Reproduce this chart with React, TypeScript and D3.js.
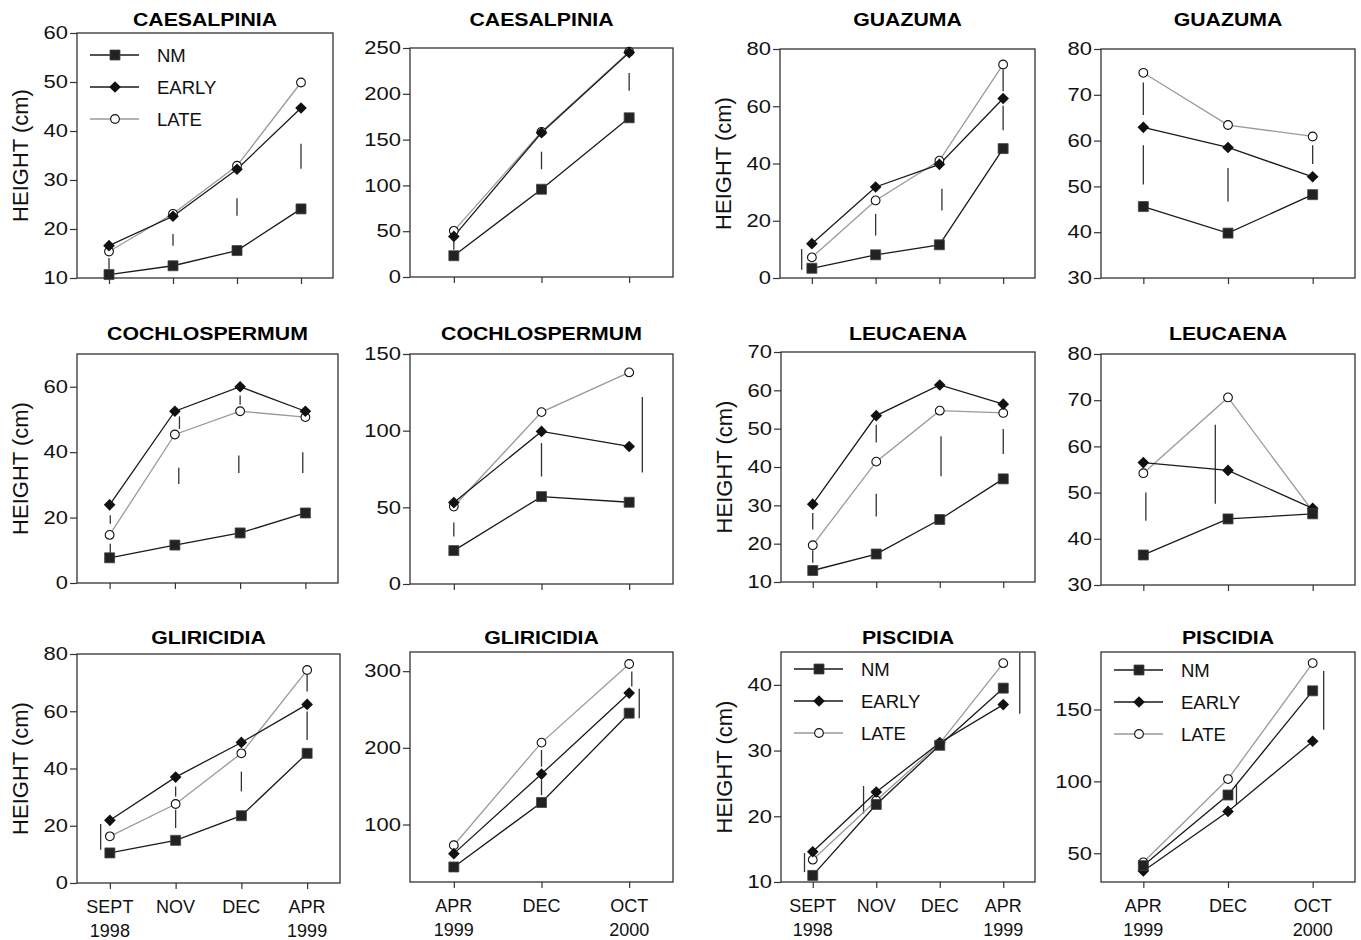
import { useEffect, useRef } from 'react';
import * as d3 from 'd3';

// x categories
const monthsA = ['SEPT', 'NOV', 'DEC', 'APR'];
const yearsA = ['1998', '', '', '1999'];
const monthsB = ['APR', 'DEC', 'OCT'];
const yearsB = ['1999', '', '2000'];
const seriesNames = ['NM', 'EARLY', 'LATE'];

// CAESALPINIA
const caesNmA = [10.7, 12.5, 15.6, 24.1];
const caesEarlyA = [16.6, 22.6, 32.2, 44.7];
const caesLateA = [15.4, 23.1, 32.9, 49.9];
const caesLsdA = [[0, 11.8, 14.1], [1, 16.6, 19.0], [2, 22.7, 26.3], [3, 32.3, 37.4]];
const caesNmB = [23.2, 95.8, 173.8];
const caesEarlyB = [44.3, 157.5, 245];
const caesLateB = [50.4, 158.5, 246];
const caesLsdB = [[0, 29.8, 40.6], [1, 117.6, 136.8], [2, 203.2, 222.8]];

// GUAZUMA
const guazNmA = [3.4, 8.1, 11.6, 45.2];
const guazEarlyA = [12.0, 31.8, 39.7, 62.7];
const guazLateA = [7.2, 27.1, 41.0, 74.6];
const guazLsdA = [[-0.16, 2.9, 10.1], [1, 14.8, 22.4], [2.04, 23.6, 31.2], [3, 65.2, 72.8], [3, 51.6, 60.2]];
const guazNmB = [45.6, 39.8, 48.2];
const guazEarlyB = [62.9, 58.5, 52.1];
const guazLateB = [74.8, 63.4, 60.9];
const guazLsdB = [[0, 65.6, 72.7], [0, 50.4, 59.0], [1, 46.7, 54.0], [2, 54.9, 59.0]];

// COCHLOSPERMUM
const cochNmA = [7.7, 11.6, 15.3, 21.4];
const cochEarlyA = [23.9, 52.5, 60.0, 52.5];
const cochLateA = [14.7, 45.4, 52.5, 50.7];
const cochLsdA = [[0.01, 18.1, 20.7], [0.01, 9.0, 12.0], [1.07, 47.1, 50.9], [1.06, 30.3, 35.2], [2, 54.5, 57.3], [1.98, 33.6, 39.0], [2.96, 33.6, 40.0]];
const cochNmB = [21.8, 57.0, 53.3];
const cochEarlyB = [53.1, 99.5, 89.7];
const cochLateB = [50.5, 112.1, 138.0];
const cochLsdB = [[0, 30.9, 40.1], [1, 70.1, 91.9], [2.15, 72.7, 121.9]];

// LEUCAENA
const leucNmA = [13.0, 17.3, 26.3, 36.9];
const leucEarlyA = [30.3, 53.4, 61.4, 56.4];
const leucLateA = [19.6, 41.4, 54.7, 54.1];
const leucLsdA = [[0, 23.7, 28.0], [0, 15.0, 18.3], [1, 46.4, 51.0], [1, 27.1, 33.0], [2.02, 37.6, 48.0], [3, 43.4, 49.9]];
const leucNmB = [36.5, 44.3, 45.4];
const leucEarlyB = [56.5, 54.8, 46.6];
const leucLateB = [54.2, 70.6, 46.0];
const leucLsdB = [[0.03, 43.9, 50.0], [0.85, 47.6, 64.7]];

// GLIRICIDIA
const gliNmA = [10.5, 14.9, 23.5, 45.3];
const gliEarlyA = [21.9, 37.0, 49.1, 62.4];
const gliLateA = [16.3, 27.6, 45.3, 74.4];
const gliLsdA = [[-0.14, 11.6, 20.6], [1, 30.2, 33.7], [1, 19.2, 25.6], [2, 32.0, 38.9], [3, 66.9, 72.7], [3, 50.0, 59.9]];
const gliNmB = [44.6, 128.7, 245.2];
const gliEarlyB = [62.0, 165.8, 271.4];
const gliLateB = [72.9, 206.8, 309.3];
const gliLsdB = [[1, 175.4, 197.2], [1, 138.3, 158.0], [2.03, 280.1, 299.7], [2.115, 238.6, 277.0]];

// PISCIDIA
const pisNmA = [11.0, 21.8, 30.8, 39.5];
const pisEarlyA = [14.6, 23.7, 31.2, 37.0];
const pisLateA = [13.4, 22.4, 31.1, 43.3];
const pisLsdA = [[-0.13, 11.5, 14.4], [0.8, 20.4, 24.6], [3.26, 35.6, 44.9]];
const pisNmB = [41.4, 90.5, 163.0];
const pisEarlyB = [37.7, 79.1, 127.9];
const pisLateB = [43.7, 101.6, 182.3];
const pisLsdB = [[1.1, 84.2, 98.1], [2.13, 136.0, 176.7]];

const panels = [
  { title: 'CAESALPINIA', months: monthsA, years: yearsA, nm: caesNmA, early: caesEarlyA, late: caesLateA, lsd: caesLsdA, yDomain: [10, 60], yTicks: [10, 20, 30, 40, 50, 60] },
  { title: 'CAESALPINIA', months: monthsB, years: yearsB, nm: caesNmB, early: caesEarlyB, late: caesLateB, lsd: caesLsdB, yDomain: [0, 250], yTicks: [0, 50, 100, 150, 200, 250] },
  { title: 'GUAZUMA', months: monthsA, years: yearsA, nm: guazNmA, early: guazEarlyA, late: guazLateA, lsd: guazLsdA, yDomain: [0, 80], yTicks: [0, 20, 40, 60, 80] },
  { title: 'GUAZUMA', months: monthsB, years: yearsB, nm: guazNmB, early: guazEarlyB, late: guazLateB, lsd: guazLsdB, yDomain: [30, 80], yTicks: [30, 40, 50, 60, 70, 80] },
  { title: 'COCHLOSPERMUM', months: monthsA, years: yearsA, nm: cochNmA, early: cochEarlyA, late: cochLateA, lsd: cochLsdA, yDomain: [0, 70], yTicks: [0, 20, 40, 60] },
  { title: 'COCHLOSPERMUM', months: monthsB, years: yearsB, nm: cochNmB, early: cochEarlyB, late: cochLateB, lsd: cochLsdB, yDomain: [0, 150], yTicks: [0, 50, 100, 150] },
  { title: 'LEUCAENA', months: monthsA, years: yearsA, nm: leucNmA, early: leucEarlyA, late: leucLateA, lsd: leucLsdA, yDomain: [10, 70], yTicks: [10, 20, 30, 40, 50, 60, 70] },
  { title: 'LEUCAENA', months: monthsB, years: yearsB, nm: leucNmB, early: leucEarlyB, late: leucLateB, lsd: leucLsdB, yDomain: [30, 80], yTicks: [30, 40, 50, 60, 70, 80] },
  { title: 'GLIRICIDIA', months: monthsA, years: yearsA, nm: gliNmA, early: gliEarlyA, late: gliLateA, lsd: gliLsdA, yDomain: [0, 80], yTicks: [0, 20, 40, 60, 80] },
  { title: 'GLIRICIDIA', months: monthsB, years: yearsB, nm: gliNmB, early: gliEarlyB, late: gliLateB, lsd: gliLsdB, yDomain: [25, 325], yTicks: [100, 200, 300] },
  { title: 'PISCIDIA', months: monthsA, years: yearsA, nm: pisNmA, early: pisEarlyA, late: pisLateA, lsd: pisLsdA, yDomain: [10, 45], yTicks: [10, 20, 30, 40] },
  { title: 'PISCIDIA', months: monthsB, years: yearsB, nm: pisNmB, early: pisEarlyB, late: pisLateB, lsd: pisLsdB, yDomain: [30, 190], yTicks: [50, 100, 150] },
];

// plot boxes [left, top, right, bottom] and legend first row y (0 = none)
const boxes = [
  [77, 33, 333, 278, 55], [410, 48, 673, 277, 0], [780, 49, 1035, 278, 0], [1101, 49, 1355, 278, 0],
  [77, 354, 338, 583, 0], [410, 354, 673, 584, 0], [781, 352, 1035, 582, 0], [1101, 354, 1355, 585, 0],
  [77, 654, 340, 883, 0], [410, 652, 673, 882, 0], [781, 652, 1035, 882, 669], [1101, 652, 1355, 882, 670],
];
const titleY = [26, 340, 644];

const FONT = '"Liberation Sans", Arial, Helvetica, sans-serif';
const INK = '#1a1a1a';
const FRAME = '#333';
const LATE_COLOR = '#9a9a9a';

const App = () => {
  const svgRef = useRef(null);

  useEffect(() => {
    const svg = d3.select(svgRef.current);
    svg.selectAll('*').remove();

    const squareSym = d3.symbol(d3.symbolSquare, 100)();
    const diamondSym = d3.symbol(d3.symbolSquare, 68)();
    const circleSym = d3.symbol(d3.symbolCircle, 60)();

    const drawMarker = (g, kind, cx, cy) => {
      if (kind === 0) {
        g.append('path').attr('d', squareSym).attr('transform', `translate(${cx},${cy})`)
          .attr('fill', '#222').attr('stroke', '#444').attr('stroke-width', 0.8);
      } else if (kind === 1) {
        g.append('path').attr('d', diamondSym).attr('transform', `translate(${cx},${cy}) rotate(45)`)
          .attr('fill', '#111');
      } else {
        g.append('path').attr('d', circleSym).attr('transform', `translate(${cx},${cy})`)
          .attr('fill', '#fff').attr('stroke', '#111').attr('stroke-width', 1.1);
      }
    };

    panels.forEach((p, i) => {
      const [x0, y0, x1, y1, legendY] = boxes[i];
      const row = Math.floor(i / 4);
      const col = i % 4;
      const n = p.months.length;
      const x = d3.scaleLinear().domain([-0.5, n - 0.5]).range([x0, x1]);
      const y = d3.scaleLinear().domain(p.yDomain).range([y1, y0]);
      const g = svg.append('g');

      // title
      g.append('text')
        .attr('transform', `translate(${(x0 + x1) / 2},${titleY[row]}) scale(1.12,1)`)
        .attr('text-anchor', 'middle')
        .style('font-family', FONT).style('font-weight', 'bold').style('font-size', '19px')
        .attr('fill', '#000')
        .text(p.title);

      // y axis
      const yAxis = g.append('g')
        .attr('transform', `translate(${x0},0)`)
        .call(d3.axisLeft(y).tickValues(p.yTicks).tickSize(7).tickPadding(3).tickSizeOuter(0));
      yAxis.select('.domain').remove();
      yAxis.selectAll('line').attr('stroke', FRAME).attr('stroke-width', 1.2);
      yAxis.selectAll('text')
        .attr('x', -7.4).attr('transform', 'scale(1.22,1)')
        .style('font-family', FONT).style('font-size', '18px').attr('fill', '#111');

      // x axis ticks
      const xAxis = g.append('g')
        .attr('transform', `translate(0,${y1})`)
        .call(d3.axisBottom(x).tickValues(d3.range(n)).tickSize(6).tickFormat(() => '').tickSizeOuter(0));
      xAxis.select('.domain').remove();
      xAxis.selectAll('line').attr('stroke', FRAME).attr('stroke-width', 1.2);

      if (row === 2) {
        p.months.forEach((m, k) => {
          g.append('text').attr('x', x(k)).attr('y', y1 + 30).attr('text-anchor', 'middle')
            .style('font-family', FONT).style('font-size', '18px').attr('fill', '#111').text(m);
          if (p.years[k]) {
            g.append('text').attr('x', x(k)).attr('y', y1 + 54).attr('text-anchor', 'middle')
              .style('font-family', FONT).style('font-size', '18px').attr('fill', '#111').text(p.years[k]);
          }
        });
      }

      // y title
      if (col === 0 || col === 2) {
        const cx = x0 - 49;
        const cy = (y0 + y1) / 2;
        g.append('text')
          .attr('transform', `translate(${cx},${cy}) rotate(-90)`)
          .attr('text-anchor', 'middle')
          .style('font-family', FONT).style('font-size', '22px').attr('fill', '#111')
          .text('HEIGHT (cm)');
      }

      // frame
      g.append('rect')
        .attr('x', x0).attr('y', y0).attr('width', x1 - x0).attr('height', y1 - y0)
        .attr('fill', 'none').attr('stroke', FRAME).attr('stroke-width', 1.3);

      // LSD bars
      g.selectAll('.lsd').data(p.lsd).enter().append('line')
        .attr('x1', d => x(d[0])).attr('x2', d => x(d[0]))
        .attr('y1', d => y(d[1])).attr('y2', d => y(d[2]))
        .attr('stroke', '#333').attr('stroke-width', 1.3);

      const line = d3.line<number>().x((d, k) => x(k)).y(d => y(d));
      const series = [p.nm, p.early, p.late];
      const colors = [INK, INK, LATE_COLOR];
      [2, 1, 0].forEach(s => {
        g.append('path').attr('d', line(series[s])).attr('fill', 'none')
          .attr('stroke', colors[s]).attr('stroke-width', 1.3);
      });
      [2, 1, 0].forEach(s => {
        series[s].forEach((v, k) => drawMarker(g, s, x(k), y(v)));
      });

      // legend
      if (legendY) {
        seriesNames.forEach((name, s) => {
          const ly = legendY + s * 32;
          g.append('line').attr('x1', x0 + 13).attr('x2', x0 + 62).attr('y1', ly).attr('y2', ly)
            .attr('stroke', colors[s]).attr('stroke-width', 1.3);
          drawMarker(g, s, x0 + 38, ly);
          g.append('text').attr('x', x0 + 80).attr('y', ly + 6.5)
            .style('font-family', FONT).style('font-size', '18.5px').attr('fill', '#111').text(name);
        });
      }
    });
  }, []);

  return (
    <svg ref={svgRef} width={1361} height={940}
      style={{ position: 'absolute', left: 0, top: 0, background: '#fff' }} />
  );
};

export default App;
